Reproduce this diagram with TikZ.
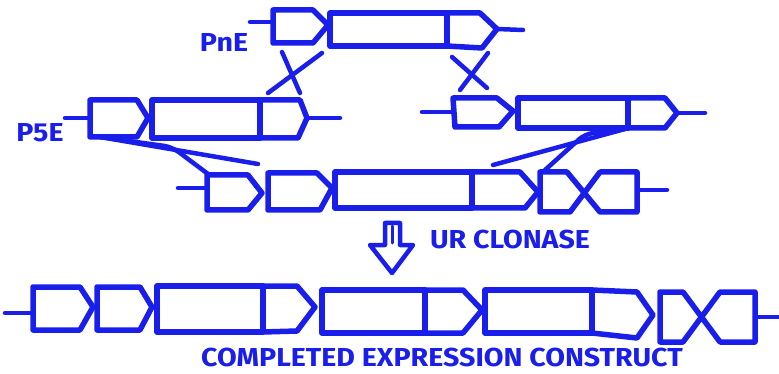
\documentclass[tikz,border=0pt]{standalone}
\usepackage{fontspec}
\setsansfont{Fira Sans}
\definecolor{pen}{RGB}{25,30,235}
\begin{document}
\begin{tikzpicture}[x=1pt,y=-1pt,
  part/.style={draw=pen, line width=5.5pt, line join=round, line cap=round},
  wire/.style={draw=pen, line width=4.5pt, line cap=round},
  label/.style={text=pen, font=\sffamily\bfseries\fontsize{26}{26}\selectfont, inner sep=0pt, xscale=1.1}]
\useasboundingbox (0,0) rectangle (779,374);
% PnE construct (top)
\draw[wire] (250,22) -- (273,22);
\draw[part] (273,10) -- (313,10) -- (328,25) -- (313,43) -- (273,43) -- cycle;
\draw[part] (330,13) rectangle (447,46);
\draw[part] (447,13) -- (480,13) -- (497,29) -- (482,48) -- (447,46);
\draw[wire] (497,29) -- (523,30);
\node[label] (pne) at (224,42) {PnE};
% P5E construct (left)
\draw[wire] (65,118) -- (90,118);
\draw[part] (90,100) -- (137,100) -- (148,118) -- (137,137) -- (90,137) -- cycle;
\draw[part] (152,100) rectangle (260,138);
\draw[part] (260,100) -- (300,100) -- (307,118) -- (298,138) -- (260,138);
\draw[wire] (307,118) -- (340,118);
\node[label] (p5e) at (40,133) {P5E};
% right construct
\draw[wire] (422,112) -- (453,112);
\draw[part] (453,98) -- (497,98) -- (513,111) -- (499,127) -- (455,127) -- cycle;
\draw[part] (518,98) rectangle (628,128);
\draw[part] (628,98) -- (665,98) -- (677,113) -- (665,128) -- (628,128);
\draw[wire] (677,113) -- (705,113);
% crossovers
\coordinate (xa1) at (282,52); \coordinate (xa2) at (300,93);
\coordinate (xb1) at (322,53); \coordinate (xb2) at (268,93);
\draw[wire] (xa1) -- (xa2);
\draw[wire] (xb1) -- (xb2);
\coordinate (xc1) at (452,57); \coordinate (xc2) at (487,88);
\coordinate (xd1) at (488,53); \coordinate (xd2) at (460,90);
\draw[wire] (xc1) -- (xc2);
\draw[wire] (xd1) -- (xd2);
% strands down to the vector
\coordinate (sl0) at (100,137);
\coordinate (sl1) at (258,164);
\coordinate (sl2) at (208,174);
\draw[wire] (sl0) -- (sl1);
\draw[wire, rounded corners=8pt] (sl0) -- (172,147) -- (sl2);
\coordinate (sr0) at (625,129);
\coordinate (sr1) at (493,165);
\coordinate (sr2) at (545,170);
\draw[wire] (sr0) -- (sr1);
\draw[wire, rounded corners=8pt] (sr0) -- (585,134) -- (sr2);
% vector (middle row)
\draw[wire] (178,188) -- (207,188);
\draw[part] (207,175) -- (248,175) -- (262,193) -- (248,210) -- (207,210) -- cycle;
\draw[part] (268,173) -- (317,173) -- (332,188) -- (320,210) -- (268,210) -- cycle;
\draw[part] (335,172) rectangle (472,208);
\draw[part] (472,172) -- (520,172) -- (538,192) -- (525,208) -- (472,208);
\draw[part] (540,172) -- (567,172) -- (600,212) -- (637,212) -- (637,172) -- (600,172) -- (570,212) -- (540,212) -- cycle;
\draw[wire] (637,190) -- (667,190);
% reaction arrow
\draw[part, line width=4.5pt] (385,223) -- (400,223) -- (400,245) -- (413,245) -- (392,273) -- (370,245) -- (385,245) -- cycle;
\draw[wire, line width=3pt] (392,226) -- (392,243);
\node[label] (clonase) at (510,239) {UR CLONASE};
% completed construct (bottom)
\draw[wire] (5,313) -- (33,313);
\draw[part] (33,287) -- (80,287) -- (93,307) -- (80,330) -- (33,330) -- cycle;
\draw[part] (97,287) -- (140,287) -- (152,307) -- (140,330) -- (97,330) -- cycle;
\draw[part] (157,286) rectangle (263,332);
\draw[part] (263,286) -- (297,286) -- (315,307) -- (297,331) -- (263,332);
\draw[part] (322,290) rectangle (425,333);
\draw[part] (425,290) -- (463,290) -- (482,310) -- (463,333) -- (425,333);
\draw[part] (485,290) rectangle (592,333);
\draw[part] (592,290) -- (637,292) -- (653,315) -- (637,338) -- (592,333);
\draw[part] (660,292) -- (683,292) -- (720,342) -- (755,342) -- (755,292) -- (720,292) -- (683,342) -- (660,342) -- cycle;
\draw[wire] (755,317) -- (779,317);
\node[label] (final) at (442,357) {COMPLETED EXPRESSION CONSTRUCT};
\end{tikzpicture}
\end{document}
